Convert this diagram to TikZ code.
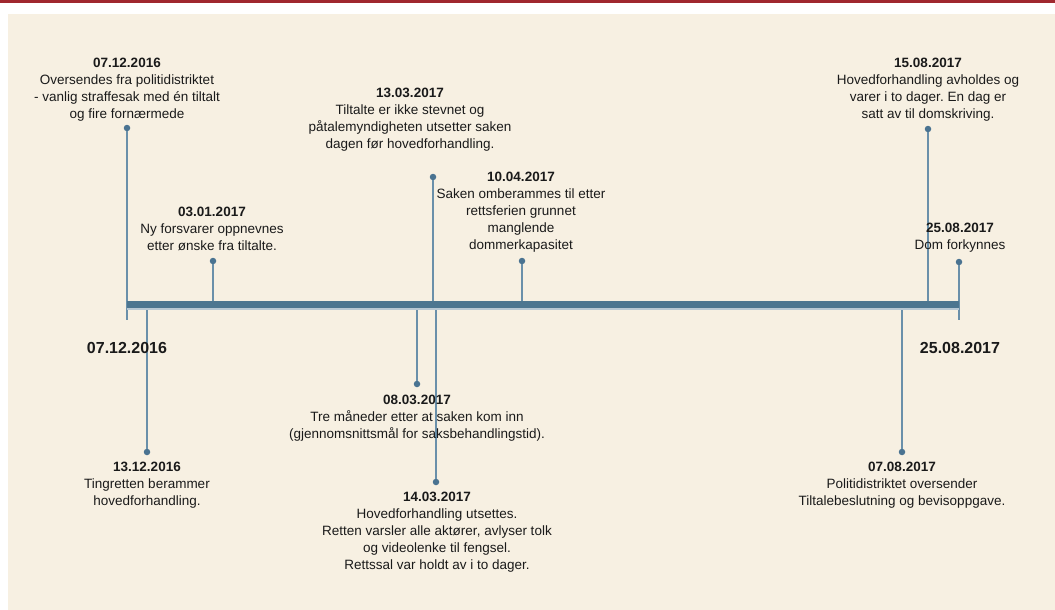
\documentclass[tikz,border=0pt]{standalone}
\usepackage{fontspec}
\setmainfont{Liberation Sans}
\frenchspacing
\definecolor{topred}{HTML}{A0282F}
\definecolor{cream}{HTML}{F7F0E2}
\definecolor{barblue}{HTML}{4D7690}
\definecolor{stemblue}{HTML}{6A90AA}
\definecolor{dotblue}{HTML}{4A7391}
\definecolor{txt}{HTML}{1A1A1A}
\begin{document}
\begin{tikzpicture}[x=1pt,y=-1pt,
  evtext/.style={anchor=north,align=center,inner sep=0pt,text=txt,font=\fontsize{13.5}{17}\selectfont},
  endlabel/.style={anchor=center,inner sep=0pt,text=txt,font=\fontsize{16}{19}\selectfont\bfseries},
  stem/.style={draw=stemblue,line width=1.3pt},
  dot/.style={circle,fill=dotblue,inner sep=0pt,minimum size=6.5pt},
  bar/.style={draw=barblue,line width=7pt}]
\useasboundingbox (0,0) rectangle (1055,610);
\fill[white] (0,0) rectangle (1055,610);
\fill[topred] (0,0) rectangle (1055,3.5);
\fill[cream] (8,14) rectangle (1055,610);

% bar ends
\coordinate (b0) at (127,304.5);
\coordinate (b1) at (959,304.5);

% stems above
\node[dot] (d1) at (127,128) {};
\coordinate (e1) at (127,320);
\draw[stem] (d1) -- (e1);
\node[dot] (d2) at (213,261) {};
\coordinate (s2) at (213,304);
\draw[stem] (d2) -- (s2);
\node[dot] (d3) at (433,177) {};
\coordinate (s3) at (433,304);
\draw[stem] (d3) -- (s3);
\node[dot] (d4) at (522,261) {};
\coordinate (s4) at (522,304);
\draw[stem] (d4) -- (s4);
\node[dot] (d5) at (928,129) {};
\coordinate (s5) at (928,304);
\draw[stem] (d5) -- (s5);
\node[dot] (d6) at (959,262) {};
\coordinate (e6) at (959,320);
\draw[stem] (d6) -- (e6);
% stems below
\node[dot] (d7) at (147,452) {};
\coordinate (s7) at (147,305);
\draw[stem] (s7) -- (d7);
\node[dot] (d8) at (417,384) {};
\coordinate (s8) at (417,305);
\draw[stem] (s8) -- (d8);
\node[dot] (d9) at (436,482) {};
\coordinate (s9) at (436,305);
\draw[stem] (s9) -- (d9);
\node[dot] (d10) at (902,452) {};
\coordinate (s10) at (902,305);
\draw[stem] (s10) -- (d10);

% main bar
\draw[barblue!40,line width=2pt] (127,309) -- (959,309);
\draw[bar] (b0) -- (b1);

% end labels
\node[endlabel] (l0) at (127,348) {07.12.2016};
\node[endlabel] (l1) at (960,348) {25.08.2017};

% event texts
\node[evtext] (t1) at (127,58) {\textbf{07.12.2016}\\Oversendes fra politidistriktet\\- vanlig straffesak med én tiltalt\\og fire fornærmede};
\node[evtext] (t2) at (212,207) {\textbf{03.01.2017}\\Ny forsvarer oppnevnes\\etter ønske fra tiltalte.};
\node[evtext] (t3) at (410,88) {\textbf{13.03.2017}\\Tiltalte er ikke stevnet og\\påtalemyndigheten utsetter saken\\dagen før hovedforhandling.};
\node[evtext] (t4) at (521,172) {\textbf{10.04.2017}\\Saken omberammes til etter\\rettsferien grunnet\\manglende\\dommerkapasitet};
\node[evtext] (t5) at (928,58) {\textbf{15.08.2017}\\Hovedforhandling avholdes og\\varer i to dager. En dag er\\satt av til domskriving.};
\node[evtext] (t6) at (960,223) {\textbf{25.08.2017}\\Dom forkynnes};
\node[evtext] (t7) at (147,462) {\textbf{13.12.2016}\\Tingretten berammer\\hovedforhandling.};
\node[evtext] (t8) at (417,395) {\textbf{08.03.2017}\\Tre måneder etter at saken kom inn\\(gjennomsnittsmål for saksbehandlingstid).};
\node[evtext] (t9) at (437,492) {\textbf{14.03.2017}\\Hovedforhandling utsettes.\\Retten varsler alle aktører, avlyser tolk\\og videolenke til fengsel.\\Rettssal var holdt av i to dager.};
\node[evtext] (t10) at (902,462) {\textbf{07.08.2017}\\Politidistriktet oversender\\Tiltalebeslutning og bevisoppgave.};
\end{tikzpicture}
\end{document}
